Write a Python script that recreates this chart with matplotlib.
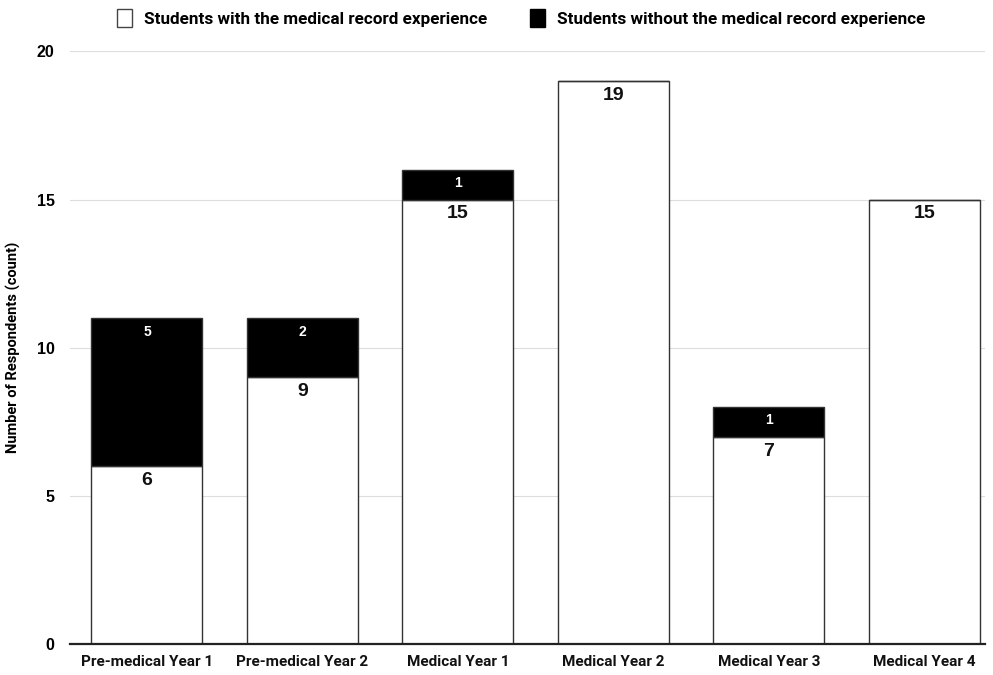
import matplotlib
matplotlib.use("Agg")
import matplotlib.pyplot as plt
from matplotlib.patches import Patch

categories = ["Pre-medical Year 1", "Pre-medical Year 2", "Medical Year 1",
              "Medical Year 2", "Medical Year 3", "Medical Year 4"]
with_exp = [6, 9, 15, 19, 7, 15]
without_exp = [5, 2, 1, 0, 1, 0]
y_ticks = [0, 5, 10, 15, 20]

plt.rcParams["font.family"] = ["Roboto", "DejaVu Sans"]
num_font = ["Liberation Sans", "DejaVu Sans"]

fig = plt.figure(figsize=(9.93, 6.75), dpi=100)
ax = fig.add_axes([0.0705, 0.0459, 0.9215, 0.878])

x = list(range(len(categories)))
w = 0.714
ax.bar(x, with_exp, width=w, color="white", edgecolor="#333333", linewidth=1.0, zorder=3)
ax.bar(x, without_exp, width=w, bottom=with_exp, color="black",
       edgecolor="#333333", linewidth=1.0, zorder=3)

for i in x:
    if with_exp[i]:
        ax.text(i, with_exp[i] - 0.2, str(with_exp[i]), ha="center", va="top",
                fontsize=14, fontweight="bold", family=num_font, color="#111111", zorder=4)
    if without_exp[i]:
        top = with_exp[i] + without_exp[i]
        ax.text(i, top - 0.22, str(without_exp[i]), ha="center", va="top",
                fontsize=10, fontweight="bold", family=num_font, color="white", zorder=4)

ax.set_xlim(-0.495, 5.39)
ax.set_ylim(0, 20)
ax.set_yticks(y_ticks)
ax.set_xticks(x)
ax.set_xticklabels(categories, fontsize=11, fontweight="bold")
ax.tick_params(axis="y", labelsize=11.5, length=0, pad=11)
ax.tick_params(axis="x", length=0, pad=8)
for lab in ax.get_yticklabels():
    lab.set_fontweight("bold")
    lab.set_family(num_font)
for lab in ax.get_xticklabels():
    lab.set_color("#111111")

ax.grid(axis="y", color="#dddddd", linewidth=0.8, zorder=0)
for side in ["top", "right", "left"]:
    ax.spines[side].set_visible(False)
ax.spines["bottom"].set_linewidth(1.6)
ax.spines["bottom"].set_color("#222222")
ax.spines["bottom"].set_zorder(5)

ax.set_ylabel("Number of Respondents (count)", fontsize=10.5, fontweight="bold", labelpad=11)

handles = [Patch(facecolor="white", edgecolor="#444444", linewidth=1.0,
                 label="Students with the medical record experience"),
           Patch(facecolor="black", edgecolor="black",
                 label="Students without the medical record experience")]
fig.legend(handles=handles, loc="center", bbox_to_anchor=(0.525, 0.973), ncol=2,
           frameon=False, handlelength=0.9, handleheight=1.2,
           handletextpad=0.7, columnspacing=2.5, prop={"weight": "bold", "size": 12.3})

fig.savefig("out.png", dpi=100)
